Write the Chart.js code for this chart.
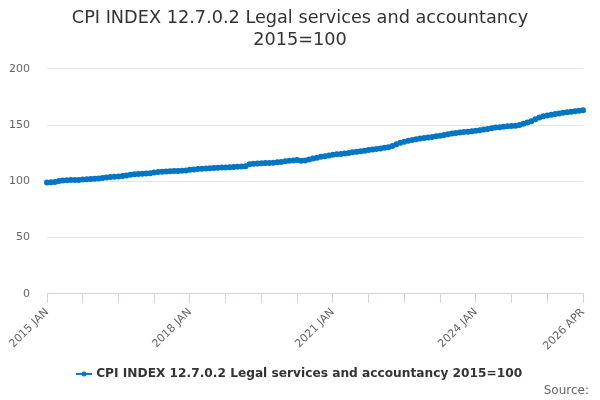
<!DOCTYPE html>
<html>
<head>
<meta charset="utf-8">
<script src="https://cdn.jsdelivr.net/npm/chart.js@4"></script>
<style>
    html, body { margin: 0; padding: 0; background: #fff; }
    #wrap { position: relative; width: 600px; height: 400px; }
    #source {
        position: absolute; right: 11px; bottom: 3px;
        font: 12px "DejaVu Sans", sans-serif; color: #666;
    }
</style>
</head>
<body>
<div id="wrap">
    <canvas id="cpiChart" width="600" height="400"></canvas>
    <div id="source">Source:</div>
</div>
<script>
const years = [2015, 2016, 2017, 2018, 2019, 2020, 2021, 2022, 2023, 2024, 2025, 2026];
const months = ['JAN', 'FEB', 'MAR', 'APR', 'MAY', 'JUN', 'JUL', 'AUG', 'SEP', 'OCT', 'NOV', 'DEC'];
const tickLabels = ['2015 JAN', '2018 JAN', '2021 JAN', '2024 JAN', '2026 APR'];

// monthly index values, one array per year
const v2015 = [99.0, 99.1, 99.5, 100.3, 100.8, 101.0, 101.1, 101.2, 101.3, 101.6, 101.8, 102.0];
const v2016 = [102.3, 102.6, 103.0, 103.5, 103.8, 104.0, 104.3, 104.8, 105.3, 105.8, 106.2, 106.5];
const v2017 = [106.7, 107.0, 107.3, 107.8, 108.2, 108.5, 108.7, 108.9, 109.1, 109.3, 109.5, 109.7];
const v2018 = [110.2, 110.6, 110.9, 111.2, 111.4, 111.6, 111.8, 112.0, 112.2, 112.4, 112.6, 112.7];
const v2019 = [112.9, 113.1, 113.4, 115.3, 115.6, 115.8, 116.0, 116.2, 116.4, 116.6, 116.9, 117.3];
const v2020 = [117.8, 118.3, 118.6, 118.9, 118.2, 118.6, 119.5, 120.3, 121.0, 121.8, 122.4, 123.0];
const v2021 = [123.6, 124.0, 124.3, 124.8, 125.3, 125.8, 126.3, 126.8, 127.3, 127.8, 128.3, 128.8];
const v2022 = [129.3, 129.8, 130.3, 131.5, 133.0, 134.3, 135.2, 136.0, 136.8, 137.4, 138.0, 138.5];
const v2023 = [139.0, 139.5, 140.0, 140.6, 141.3, 141.9, 142.5, 143.0, 143.4, 143.8, 144.2, 144.6];
const v2024 = [145.0, 145.5, 146.0, 146.6, 147.2, 147.8, 148.2, 148.6, 148.9, 149.2, 149.5, 150.2];
const v2025 = [151.2, 152.3, 153.5, 155.2, 156.8, 157.8, 158.5, 159.2, 159.8, 160.4, 160.9, 161.4];
const v2026 = [161.9, 162.3, 162.7, 163.3];

const values = [].concat(v2015, v2016, v2017, v2018, v2019, v2020, v2021, v2022, v2023, v2024, v2025, v2026);

const labels = [];
years.forEach(y => months.forEach(m => labels.push(y + ' ' + m)));
labels.length = values.length;

const blue = '#0076c4';
const font = '"DejaVu Sans", sans-serif';

// legend symbol: short line with a dot in the middle
const legendSymbol = document.createElement('canvas');
legendSymbol.width = 16;
legendSymbol.height = 10;
(() => {
    const c = legendSymbol.getContext('2d');
    c.strokeStyle = blue;
    c.lineWidth = 2;
    c.beginPath();
    c.moveTo(0, 5);
    c.lineTo(16, 5);
    c.stroke();
    c.fillStyle = blue;
    c.beginPath();
    c.arc(8, 5, 2.5, 0, Math.PI * 2);
    c.fill();
})();

// centre title and legend on the whole canvas, not just the padded area
const fullWidthBoxes = {
    id: 'fullWidthBoxes',
    afterLayout(chart) {
        [chart.titleBlock, chart.legend].forEach(box => {
            if (!box) return;
            box.left = 0;
            box.right = chart.width;
            box.width = chart.width;
        });
    }
};

const ctx = document.getElementById('cpiChart').getContext('2d');

new Chart(ctx, {
    type: 'line',
    data: {
        labels: labels,
        datasets: [{
            label: 'CPI INDEX 12.7.0.2 Legal services and accountancy 2015=100',
            data: values,
            borderColor: blue,
            backgroundColor: blue,
            borderWidth: 2,
            pointRadius: 2,
            pointHoverRadius: 3,
            pointStyle: 'circle',
            tension: 0,
            fill: false
        }]
    },
    options: {
        responsive: false,
        animation: false,
        layout: { padding: { left: 0, right: 17, top: 0, bottom: 10 } },
        plugins: {
            title: {
                display: true,
                text: ['CPI INDEX 12.7.0.2 Legal services and accountancy', '2015=100'],
                color: '#333',
                font: { family: font, size: 17.7, weight: 'normal', lineHeight: 1.24 },
                padding: { top: 7, bottom: 18 }
            },
            legend: {
                position: 'bottom',
                labels: {
                    usePointStyle: true,
                    pointStyle: legendSymbol,
                    color: '#333',
                    font: { family: font, size: 12.2, weight: 'bold' },
                    padding: 12
                }
            },
            tooltip: { enabled: false }
        },
        scales: {
            x: {
                grid: {
                    drawOnChartArea: false,
                    tickLength: 9,
                    color: c => (c.index % 9 === 0 ? '#ccd6eb' : 'rgba(0,0,0,0)')
                },
                border: { color: '#ccd6eb' },
                ticks: {
                    autoSkip: false,
                    minRotation: 45,
                    maxRotation: 45,
                    color: '#666',
                    font: { family: font, size: 11 },
                    padding: 3,
                    callback: function (val) {
                        const l = this.getLabelForValue(val);
                        return tickLabels.includes(l) ? l : '';
                    }
                }
            },
            y: {
                min: 0,
                max: 200,
                afterFit: s => { s.width = 47; },
                grid: { color: '#e6e6e6', drawTicks: false },
                border: { display: false },
                ticks: {
                    stepSize: 50,
                    color: '#666',
                    font: { family: font, size: 11 },
                    padding: 17
                }
            }
        }
    },
    plugins: [fullWidthBoxes]
});
</script>
</body>
</html>
